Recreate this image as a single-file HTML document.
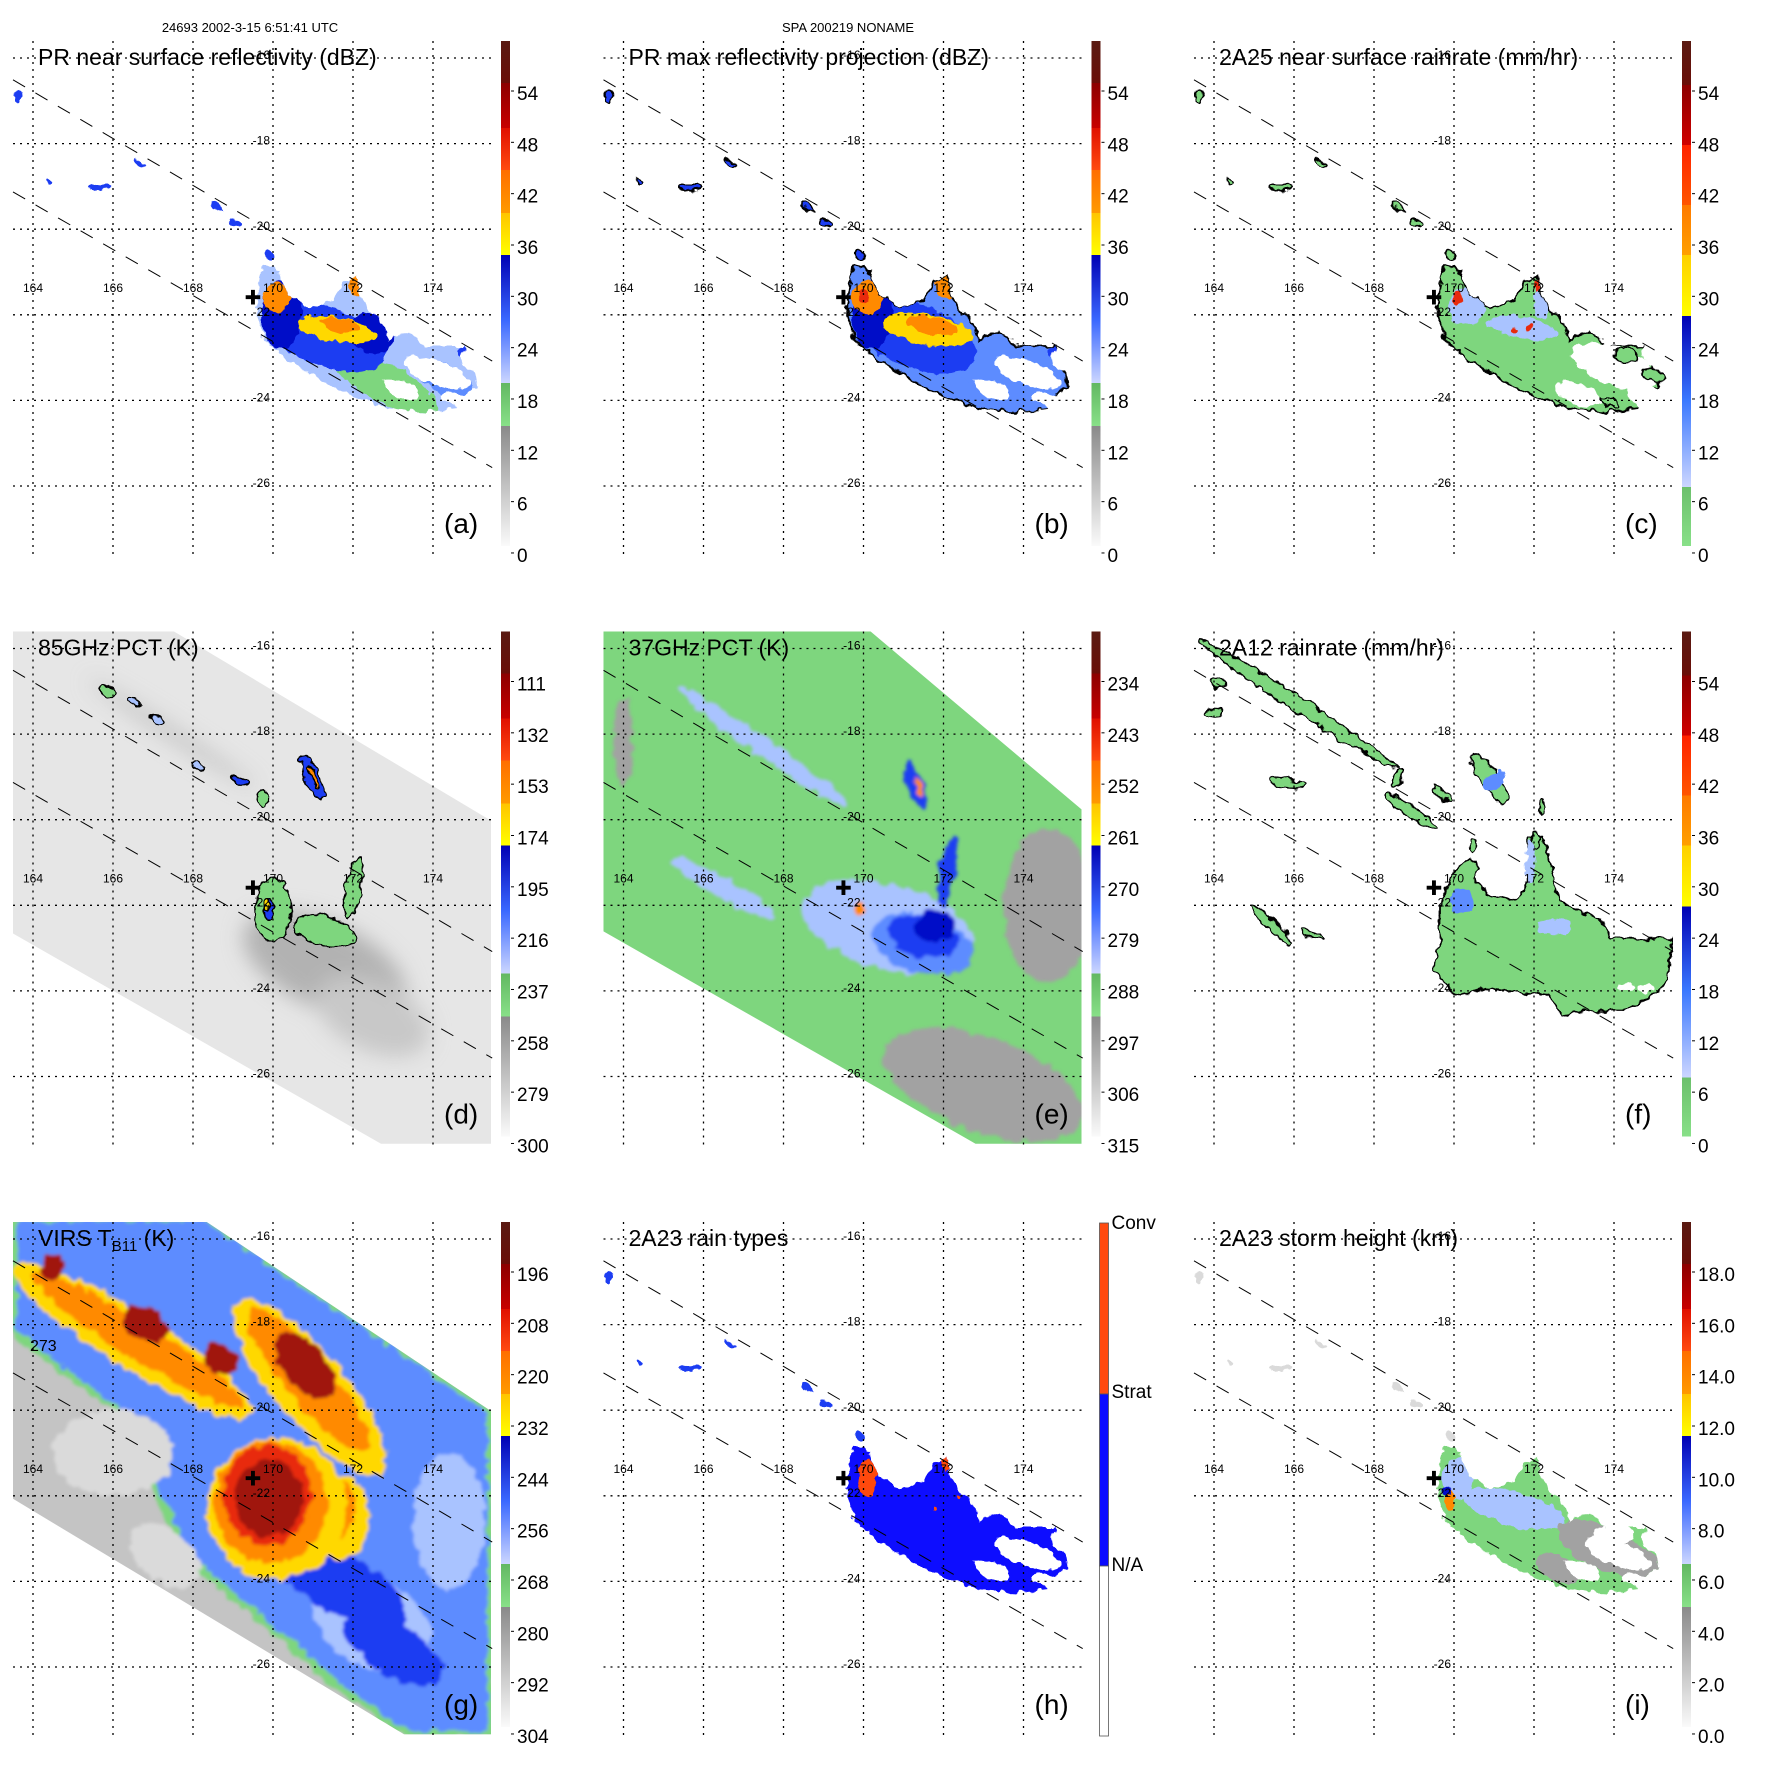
<!DOCTYPE html>
<html><head><meta charset="utf-8">
<style>
html,body{margin:0;padding:0;background:#fff;}
svg{display:block;font-family:"Liberation Sans",Arial,sans-serif;}
</style></head>
<body>
<svg id="fig" xmlns="http://www.w3.org/2000/svg" width="1771" height="1771" viewBox="0 0 1771 1771">
<defs>
<filter id="rough" x="-10%" y="-10%" width="120%" height="120%">
<feTurbulence type="fractalNoise" baseFrequency="0.11" numOctaves="2" seed="3" result="n"/>
<feDisplacementMap in="SourceGraphic" in2="n" scale="9" xChannelSelector="R" yChannelSelector="G"/>
</filter>
<filter id="soft" x="-20%" y="-20%" width="140%" height="140%">
<feTurbulence type="fractalNoise" baseFrequency="0.09" numOctaves="2" seed="7" result="n"/>
<feDisplacementMap in="SourceGraphic" in2="n" scale="12" xChannelSelector="R" yChannelSelector="G" result="d"/>
<feGaussianBlur in="d" stdDeviation="1.5"/>
</filter>
<filter id="blur"><feGaussianBlur stdDeviation="10"/></filter>
</defs>
<text x="250" y="32" font-size="13" text-anchor="middle">24693 2002-3-15 6:51:41 UTC</text>
<text x="848" y="32" font-size="13" text-anchor="middle">SPA 200219 NONAME</text>
</svg>
<script>
const NS='http://www.w3.org/2000/svg';
const svg=document.getElementById('fig');

// ---- axes data ----
const lonTicks=[164,166,168,170,172,174];
const latTicks=[-16,-18,-20,-22,-24,-26];
const titles=['PR near surface reflectivity (dBZ)','PR max reflectivity projection (dBZ)','2A25 near surface rainrate (mm/hr)','85GHz PCT (K)','37GHz PCT (K)','2A12 rainrate (mm/hr)','VIRS T','2A23 rain types','2A23 storm height (km)'];
const letters=['(a)','(b)','(c)','(d)','(e)','(f)','(g)','(h)','(i)'];
const cbLabelsA=['54','48','42','36','30','24','18','12','6','0'];
const cbLabelsD=['111','132','153','174','195','216','237','258','279','300'];
const cbLabelsE=['234','243','252','261','270','279','288','297','306','315'];
const cbLabelsG=['196','208','220','232','244','256','268','280','292','304'];
const cbLabelsH=['Conv','Strat','N/A'];
const cbLabelsI=['18.0','16.0','14.0','12.0','10.0','8.0','6.0','4.0','2.0','0.0'];
const stormCenter=[169.5,-21.6];
const swathUpper=[[163.5,-16.51],[175.48,-23.08]];
const swathLower=[[163.5,-19.13],[175.48,-25.57]];

// ---- geographic fields ----
const pal={G:'#7ed67e',LB:'#a9c3ff',MB:'#5d8cff',B:'#1f3cf2',DB:'#0008c8',Y:'#ffd800',O:'#ff8a00',R:'#e82a08',DR:'#a01810',GR:'#a2a2a2',LG:'#dadada',W:'#ffffff',OR:'#ff4a10',K:'#222222'};
const rainOutline=[[169.75,-20.84],[170.15,-20.93],[170.3,-21.46],[170.9,-21.84],[171.5,-21.65],[171.8,-21.2],[172.07,-21.1],[172.27,-21.7],[172.75,-22.19],[172.85,-22.6],[173.4,-22.38],[173.8,-22.73],[174.8,-22.73],[174.97,-23.1],[175.07,-23.64],[174.6,-24.18],[173.8,-24.27],[172.85,-24.18],[172.27,-23.99],[171.6,-23.73],[170.43,-23.1],[169.8,-22.6],[169.55,-21.84],[169.65,-21.46]];
const scatterDots=[[165.65,-19.03,0.28,0.07,0],[166.65,-18.45,0.15,0.07,30],[168.6,-19.48,0.2,0.06,30],[169.08,-19.85,0.15,0.06,30],[163.6,-16.9,0.1,0.15,0],[164.4,-18.9,0.06,0.06,0],[169.9,-20.6,0.12,0.08,0]];
const holesSE=[[174.1,-23.35,0.9,0.28,20,'W'],[173.2,-23.75,0.5,0.2,20,'W'],[175.0,-23.0,0.3,0.3,0,'W'],[174.6,-24.0,0.4,0.15,20,'W']];
const holesC=[[174.0,-23.2,1.1,0.45,20,'W'],[173.1,-23.85,0.6,0.25,20,'W'],[174.8,-23.9,0.5,0.3,20,'W'],[175.0,-22.9,0.3,0.3,0,'W']];
const fragsC=[[174.3,-22.95,0.25,0.18,0,'G'],[175.0,-23.4,0.3,0.12,20,'G'],[173.9,-24.05,0.25,0.1,20,'G']];
const blobsA=[[172.8,-23.6,1.5,0.45,28,'G'],[174.3,-23.5,0.8,0.35,28,'MB'],[171.3,-22.5,1.6,0.7,20,'B'],[170.2,-22.0,0.5,0.8,0,'DB'],[172.5,-22.4,0.6,0.5,0,'DB'],[171.6,-22.35,1.0,0.28,10,'Y'],[171.7,-22.25,0.5,0.15,10,'O'],[170.1,-21.6,0.35,0.35,0,'O'],[172.1,-21.3,0.25,0.25,0,'O'],[174.8,-22.87,0.18,0.15,0,'B']];
const blobsB=[[173.5,-23.5,1.6,0.5,28,'MB'],[171.3,-22.5,1.6,0.75,20,'B'],[170.2,-22.0,0.5,0.8,0,'DB'],[171.6,-22.35,1.15,0.35,10,'Y'],[171.7,-22.25,0.65,0.2,10,'O'],[170.1,-21.6,0.4,0.4,0,'O'],[170.0,-21.55,0.15,0.15,0,'R'],[172.1,-21.3,0.3,0.3,0,'O'],[174.8,-22.87,0.2,0.15,0,'B']];
const blobsC=[[170.3,-21.8,0.45,0.45,0,'LB'],[171.7,-22.3,0.9,0.25,10,'LB'],[172.2,-21.7,0.2,0.4,0,'LB'],[170.1,-21.6,0.15,0.15,0,'R'],[172.1,-21.3,0.12,0.12,0,'R'],[171.9,-22.3,0.1,0.08,0,'R'],[171.5,-22.35,0.1,0.06,0,'R']];
const blobsH=[[170.1,-21.6,0.25,0.45,0,'OR'],[172.05,-21.2,0.15,0.22,0,'OR'],[171.8,-22.3,0.06,0.06,0,'OR'],[172.4,-22.0,0.05,0.05,0,'OR']];
const blobsI=[[171.5,-22.3,1.3,0.4,15,'LB'],[170.1,-21.6,0.4,0.5,0,'LB'],[173.7,-23.2,1.2,0.5,25,'GR'],[174.6,-23.6,0.7,0.4,25,'GR'],[172.6,-23.7,0.6,0.3,25,'GR'],[174.0,-22.9,0.5,0.25,0,'W'],[169.9,-22.1,0.12,0.25,0,'O'],[169.8,-21.9,0.15,0.15,0,'DB']];
const swathD=[[163.5,-15.56],[167.45,-15.56],[175.45,-20.02],[175.45,-27.57],[172.7,-27.57],[163.5,-22.66]];
const swathE=[[163.5,-15.56],[170.125,-15.56],[175.45,-19.76],[175.45,-27.57],[172.8,-27.57],[163.5,-22.61]];
const swathG=[[163.5,-15.56],[168.275,-15.56],[175.45,-20.02],[175.45,-27.57],[173.275,-27.57],[163.5,-22.07]];
const shadeD=[[171.3,-23.4,2.2,1.0,25,'#b2b2b2'],[172.5,-24.6,1.5,0.8,25,'#c8c8c8'],[167.5,-18.0,2.5,0.15,33,'#c4c4c4']];
const blobsD=[[170.0,-22.1,0.45,0.75,0,'G'],[171.3,-22.6,0.8,0.35,15,'G'],[172.0,-21.6,0.2,0.7,10,'G'],[165.85,-17.0,0.2,0.12,30,'G'],[166.5,-17.26,0.15,0.1,30,'LB'],[167.1,-17.66,0.15,0.1,30,'LB'],[168.1,-18.74,0.15,0.1,30,'LB'],[169.2,-19.1,0.2,0.1,30,'B'],[169.75,-19.5,0.1,0.2,0,'G'],[170.98,-19.0,0.18,0.55,-25,'B'],[171.0,-19.0,0.06,0.3,-25,'O'],[169.9,-22.1,0.12,0.25,0,'B'],[169.85,-22.0,0.06,0.12,0,'Y']];
const blobsE=[[174.6,-22.0,1.1,1.8,0,'GR'],[173.0,-26.2,2.6,1.1,20,'GR'],[164.0,-18.2,0.25,1.0,0,'GR'],[170.6,-22.5,2.2,1.0,15,'LB'],[166.5,-21.6,1.5,0.25,30,'LB'],[167.5,-18.3,2.6,0.22,35,'LB'],[171.5,-22.9,1.3,0.7,15,'MB'],[171.5,-22.7,0.9,0.5,10,'B'],[171.8,-22.5,0.5,0.4,0,'DB'],[172.1,-21.2,0.2,0.85,10,'B'],[171.3,-19.2,0.2,0.6,-20,'B'],[171.35,-19.2,0.07,0.25,-20,'O'],[169.9,-22.1,0.12,0.2,0,'O']];
const outlineF=[[169.74,-21.71],[170.03,-21.18],[170.41,-20.91],[170.6,-21.09],[170.5,-21.36],[170.79,-21.71],[171.55,-21.89],[171.84,-21.53],[171.84,-20.42],[172.22,-20.42],[172.41,-21.0],[172.6,-21.89],[173.64,-22.34],[173.93,-22.78],[175.45,-22.78],[175.36,-23.76],[174.98,-24.11],[174.2,-24.47],[173.26,-24.47],[172.69,-24.56],[172.31,-24.11],[170.79,-23.94],[170.03,-24.11],[169.46,-23.49],[169.65,-22.96],[169.65,-21.98]];
const islandsF=[[166.1,-17.3,2.95,0.17,33],[168.9,-19.8,0.8,0.12,33],[169.7,-19.4,0.3,0.08,40],[170.9,-19.05,0.75,0.2,55],[165.45,-22.47,0.7,0.12,45],[165.84,-19.15,0.45,0.1,10],[164.1,-16.8,0.2,0.15,20],[164.0,-17.5,0.25,0.1,0],[172.2,-19.7,0.08,0.18,0],[172.05,-20.5,0.12,0.18,0],[170.5,-20.6,0.1,0.15,0],[166.5,-22.7,0.3,0.06,20],[168.6,-19.0,0.1,0.2,20]];
const bluesF=[[170.2,-21.9,0.3,0.3,0,'MB'],[171.9,-21.0,0.12,0.5,0,'LB'],[171.0,-19.1,0.2,0.3,55,'MB'],[172.5,-22.5,0.4,0.2,0,'LB'],[174.3,-23.9,0.25,0.08,0,'W'],[174.8,-23.95,0.2,0.08,0,'W']];
const blueRegionG=[[163.5,-15.5],[168.3,-15.5],[175.45,-20.0],[175.45,-27.57],[173.28,-27.57],[171.43,-26.28],[169.68,-24.88],[167.93,-23.5],[166.93,-21.61],[166.03,-19.95],[164.68,-19.04],[163.5,-18.15]];
const blobsG=[[166.0,-21.0,1.5,1.0,0,'LG'],[167.3,-23.4,1.0,0.6,40,'LG'],[174.4,-22.6,0.9,1.6,0,'LB'],[172.5,-25.0,1.6,1.0,30,'LB'],[171.6,-24.0,2.0,0.7,30,'B'],[173.0,-25.6,1.4,0.6,30,'B'],[166.5,-18.38,3.5,0.65,32,'Y'],[166.6,-18.35,3.1,0.42,32,'O'],[166.8,-17.98,0.6,0.4,32,'DR'],[168.7,-18.8,0.5,0.35,32,'DR'],[164.5,-16.65,0.3,0.3,0,'DR'],[170.9,-19.45,2.8,0.82,50,'Y'],[170.9,-19.3,2.3,0.55,50,'O'],[170.8,-18.97,1.0,0.5,50,'DR'],[171.7,-22.5,0.7,1.0,0,'Y'],[171.6,-22.3,0.45,0.7,0,'O'],[170.1,-22.3,1.75,1.65,0,'Y'],[169.95,-22.15,1.42,1.42,0,'O'],[169.85,-21.98,1.1,1.17,0,'R'],[169.9,-22.05,0.85,0.9,0,'DR']];

// ---- helpers ----
const X=lon=>33+(lon-164)*40;
const Y=lat=>58+(-16-lat)*42.8;
function el(tag,parent){const e=document.createElementNS(NS,tag);parent.appendChild(e);return e;}
function pts(arr){return arr.map(p=>X(p[0]).toFixed(1)+','+Y(p[1]).toFixed(1)).join(' ');}
function col(c){return pal[c]||c;}
function drawBlobs(g,list,name,stroke){
  list.forEach(b=>{
    const e=el('ellipse',g);
    e.setAttribute('cx',X(b[0]));e.setAttribute('cy',Y(b[1]));
    e.setAttribute('rx',b[2]*40);e.setAttribute('ry',b[3]*42.8);
    e.setAttribute('transform','rotate('+b[4]+' '+X(b[0])+' '+Y(b[1])+')');
    e.setAttribute('fill',b[5]?col(b[5]):pal.G);
    if(stroke){e.setAttribute('stroke','#000');e.setAttribute('stroke-width','1.6');}
    
    
  });
}
function poly(g,arr,fill,name,stroke){
  const p=el('polygon',g);
  p.setAttribute('points',pts(arr));p.setAttribute('fill',fill);
  if(stroke){p.setAttribute('stroke','#000');p.setAttribute('stroke-width','1.8');}
  
  
  return p;
}
const schemeA=[[41,'#5a1a12'],[83,'#6a0e08'],[83,'#8c0000'],[128,'#c80000'],[128,'#e01000'],[170,'#ff4a10'],[170,'#ff6e00'],[213,'#ff9a00'],[213,'#ffc400'],[255,'#ffff00'],[255,'#0000b4'],[320,'#3a68ff'],[383,'#ccd6ff'],[383,'#62b862'],[426,'#88e088'],[426,'#8a8a8a'],[546,'#fafafa']];
const schemeC=[[41,'#5a1a12'],[85,'#6a0e08'],[85,'#8c0000'],[145,'#d00000'],[145,'#ff2200'],[205,'#ff5500'],[205,'#ff7a00'],[255,'#ffa000'],[255,'#ffd000'],[316,'#ffff00'],[316,'#0000b4'],[400,'#3a78ff'],[487,'#ccd6ff'],[487,'#6cc06c'],[546,'#88e088']];
const schemes=['A','A','C','A','A','C','A','H','A'];
const cbLabelSets=[cbLabelsA,cbLabelsA,cbLabelsA,cbLabelsD,cbLabelsE,cbLabelsA,cbLabelsG,cbLabelsH,cbLabelsI];

for(let i=0;i<9;i++){
  const col_=i%3,row=Math.floor(i/3);
  const g=el('g',svg);
  g.setAttribute('transform','translate('+(col_*590.5)+','+(row*590.5)+')');
  
  
  const cid='clip'+i;
  const cp=el('clipPath',g);cp.setAttribute('id',cid);
  const cr=el('rect',cp);cr.setAttribute('x',13);cr.setAttribute('y',41);cr.setAttribute('width',479);cr.setAttribute('height',514);
  const map=el('g',g);map.setAttribute('clip-path','url(#'+cid+')');
  
  

  if([0,1,2,7,8].includes(i)){
    const base=i===0?pal.LB:i===1?pal.MB:i===2?pal.G:i===7?'#0a0aff':pal.G;
    const rg=el('g',map);rg.setAttribute('filter','url(#rough)');
    const rcid='rclip'+i;
    const rcp=el('clipPath',g);rcp.setAttribute('id',rcid);
    poly(rcp,rainOutline,'#000','clip-outline');
    poly(rg,rainOutline,base,'rain-area',i===1||i===2);
    const inner=el('g',rg);inner.setAttribute('clip-path','url(#'+rcid+')');
    const bl=[blobsA,blobsB,blobsC,0,0,0,0,blobsH,blobsI][i];
    drawBlobs(inner,bl,'rain-cell');
    drawBlobs(rg,i===2?holesC:holesSE,'rain-free-gap',false);
    if(i===2) drawBlobs(rg,fragsC,'rain-fragment',true);
    const dots=scatterDots.map(d=>d.concat([i===2?'G':i===7?'B':i===8?'LG':'B']));
    drawBlobs(rg,dots,'scattered-echo',i===1||i===2);
  }
  if(i===3){
    poly(map,swathD,'#e6e6e6','tmi-swath');
    const sh=el('g',map);sh.setAttribute('filter','url(#blur)');
    drawBlobs(sh,shadeD,'ice-scatter-shading');
    const bg=el('g',map);bg.setAttribute('filter','url(#rough)');
    drawBlobs(bg,blobsD,'pct-cell',true);
  }
  if(i===4){
    poly(map,swathE,pal.G,'tmi-swath');
    const bg=el('g',map);bg.setAttribute('filter','url(#soft)');
    const sc='sclip4';const s=el('clipPath',g);s.setAttribute('id',sc);poly(s,swathE,'#000','clip-swath');
    bg.setAttribute('clip-path','url(#'+sc+')');
    drawBlobs(bg,blobsE,'pct-cell');
  }
  if(i===5){
    const rg=el('g',map);rg.setAttribute('filter','url(#rough)');
    poly(rg,outlineF,pal.G,'rain-area',true);
    drawBlobs(rg,islandsF.map(d=>d.concat(['G'])),'rain-band',true);
    drawBlobs(rg,bluesF,'rain-cell');
  }
  if(i===6){
    poly(map,swathG,'#c4c4c4','virs-swath');
    const sc='sclip6';const s=el('clipPath',g);s.setAttribute('id',sc);poly(s,swathG,'#000','clip-swath');
    const bg=el('g',map);bg.setAttribute('filter','url(#soft)');bg.setAttribute('clip-path','url(#'+sc+')');
    const br=poly(bg,blueRegionG,pal.MB,'cloud-region');
    br.setAttribute('stroke',pal.G);br.setAttribute('stroke-width','7');
    drawBlobs(bg,blobsG,'cloud-top',false);
    const t=el('text',map);t.setAttribute('x',30);t.setAttribute('y',170);t.setAttribute('font-size','16');t.textContent='273';
    
    
  }

  // grid
  lonTicks.forEach(l=>{const ln=el('line',g);ln.setAttribute('x1',X(l));ln.setAttribute('x2',X(l));ln.setAttribute('y1',41);ln.setAttribute('y2',555);
    ln.setAttribute('stroke','#000');ln.setAttribute('stroke-width','1.3');ln.setAttribute('stroke-dasharray','2,5');
    
    
    const t=el('text',g);t.setAttribute('x',X(l));t.setAttribute('y',292);t.setAttribute('font-size','12');t.setAttribute('text-anchor','middle');t.textContent=l;
    
    });
  latTicks.forEach(l=>{const ln=el('line',g);ln.setAttribute('x1',13);ln.setAttribute('x2',492);ln.setAttribute('y1',Y(l));ln.setAttribute('y2',Y(l));
    ln.setAttribute('stroke','#000');ln.setAttribute('stroke-width','1.3');ln.setAttribute('stroke-dasharray','2,5');
    
    
    const t=el('text',g);t.setAttribute('x',270);t.setAttribute('y',Y(l)+1);t.setAttribute('font-size','12');t.setAttribute('text-anchor','end');t.textContent=l;
    
    });
  [swathUpper,swathLower].forEach(s=>{const ln=el('line',g);ln.setAttribute('x1',X(s[0][0]));ln.setAttribute('y1',Y(s[0][1]));ln.setAttribute('x2',X(s[1][0]));ln.setAttribute('y2',Y(s[1][1]));
    ln.setAttribute('stroke','#000');ln.setAttribute('stroke-width','1');ln.setAttribute('stroke-dasharray','14,12');
    
    });
  const cx=el('text',g);cx.setAttribute('x',X(stormCenter[0]));cx.setAttribute('y',Y(stormCenter[1])+7);cx.setAttribute('font-size','20');cx.setAttribute('font-weight','bold');cx.setAttribute('text-anchor','middle');cx.setAttribute('font-family','DejaVu Sans, sans-serif');cx.textContent='✚';
  
  

  // title
  const tt=el('text',g);tt.setAttribute('x',38);tt.setAttribute('y',65);tt.setAttribute('font-size','23');tt.textContent=titles[i];
  if(i===6){const sb=el('tspan',tt);sb.setAttribute('font-size','15');sb.setAttribute('dy','5');sb.textContent='B11';const s2=el('tspan',tt);s2.setAttribute('dy','-5');s2.textContent=' (K)';}
  
  
  const lt=el('text',g);lt.setAttribute('x',444);lt.setAttribute('y',533);lt.setAttribute('font-size','28');lt.textContent=letters[i];
  
  

  // colorbar
  const cbg=el('g',g);
  
  
  if(schemes[i]==='H'){
    const segs=[[42,213,'#ff4a10'],[213,385,'#0a0aff'],[385,555,'#ffffff']];
    segs.forEach(s=>{const r=el('rect',cbg);r.setAttribute('x',509);r.setAttribute('y',s[0]);r.setAttribute('width',9);r.setAttribute('height',s[1]-s[0]);r.setAttribute('fill',s[2]);r.setAttribute('stroke','#555');r.setAttribute('stroke-width','0.8');
      
      });
    const ys=[48,217,390];
    cbLabelSets[i].forEach((l,k)=>{const t=el('text',cbg);t.setAttribute('x',521);t.setAttribute('y',ys[k]);t.setAttribute('font-size','19');t.textContent=l;
      
      });
  } else {
    const gid='grad'+i;const lg=el('linearGradient',cbg);lg.setAttribute('id',gid);lg.setAttribute('gradientUnits','userSpaceOnUse');
    lg.setAttribute('x1',0);lg.setAttribute('x2',0);lg.setAttribute('y1',41);lg.setAttribute('y2',546);
    (schemes[i]==='A'?schemeA:schemeC).forEach(s=>{const st=el('stop',lg);st.setAttribute('offset',((s[0]-41)/505).toFixed(4));st.setAttribute('stop-color',s[1]);});
    const r=el('rect',cbg);r.setAttribute('x',501);r.setAttribute('y',41);r.setAttribute('width',9);r.setAttribute('height',505);r.setAttribute('fill','url(#'+gid+')');
    
    
    cbLabelSets[i].forEach((l,k)=>{const y=94+k*51.33;
      const tk=el('line',cbg);tk.setAttribute('x1',511);tk.setAttribute('x2',514);tk.setAttribute('y1',y-3);tk.setAttribute('y2',y-3);tk.setAttribute('stroke','#000');
      
      
      const t=el('text',cbg);t.setAttribute('x',517);t.setAttribute('y',y+6);t.setAttribute('font-size','19');t.textContent=l;
      
      });
  }
}
</script>
</body></html>
